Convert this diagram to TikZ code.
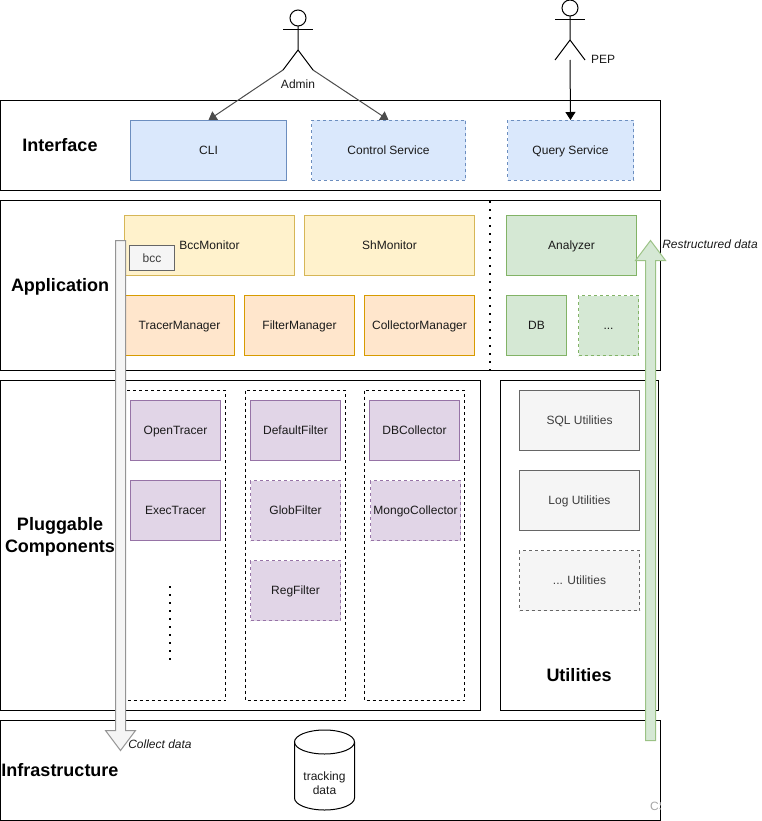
\documentclass[tikz,border=0pt]{standalone}
\usepackage{fontspec}
\setmainfont{Liberation Sans}
\usetikzlibrary{arrows.meta}
\definecolor{txt}{HTML}{1A1A1A}
\definecolor{bluef}{HTML}{DAE8FC}\definecolor{blues}{HTML}{6C8EBF}
\definecolor{yelf}{HTML}{FFF2CC}\definecolor{yels}{HTML}{D6B656}
\definecolor{orgf}{HTML}{FFE6CC}\definecolor{orgs}{HTML}{D79B00}
\definecolor{grnf}{HTML}{D5E8D4}\definecolor{grns}{HTML}{82B366}
\definecolor{purf}{HTML}{E1D5E7}\definecolor{purs}{HTML}{9673A6}
\definecolor{gryf}{HTML}{F5F5F5}\definecolor{grys}{HTML}{666666}
\tikzset{
  base/.style={draw, line width=1pt, inner sep=0pt, align=center, text=txt, text height=10pt, text depth=2pt, font=\fontsize{12}{14}\selectfont},
  layer/.style={draw=black, line width=1pt},
  title/.style={inner sep=0pt, align=center, text=black, font=\fontsize{18}{22}\bfseries\selectfont},
  small/.style={inner sep=0pt, text=txt, font=\fontsize{12}{14}\selectfont},
  note/.style={inner sep=0pt, text=txt, font=\fontsize{12}{14}\itshape\selectfont},
  bluebox/.style={base, fill=bluef, draw=blues},
  yelbox/.style={base, fill=yelf, draw=yels},
  orgbox/.style={base, fill=orgf, draw=orgs},
  grnbox/.style={base, fill=grnf, draw=grns},
  purbox/.style={base, fill=purf, draw=purs},
  grybox/.style={base, fill=gryf, draw=grys, text=grys!60!black},
  dashbox/.style={dash pattern=on 3pt off 3pt},
  column/.style={draw=black, line width=1pt, dash pattern=on 3pt off 3pt},
  actor/.style={draw=black, line width=1pt},
  conn/.style={draw=black!70, line width=1pt, -{Triangle[length=8pt,width=10pt]}},
  dotline/.style={draw=black, line width=2pt, dash pattern=on 2pt off 6pt},
}
\begin{document}
\begin{tikzpicture}[x=1pt,y=-1pt]
\useasboundingbox (0,0) rectangle (761,821);
% layers
\draw[layer] (0.5,100.5) rectangle (660.5,190.5);
\draw[layer] (0.5,200.5) rectangle (660.5,370.5);
\draw[layer] (0.5,380.5) rectangle (480.5,710.5);
\draw[layer] (500.5,380.5) rectangle (658.5,710.5);
\draw[layer] (0.5,720.5) rectangle (660.5,820.5);
% titles
\node[title] (tInterface) at (60,145) {Interface};
\node[title] (tApplication) at (60,287) {Application};
\node[title] (tPluggable) at (60,537) {Pluggable\\Components};
\node[title] (tUtilities) at (579,675) {Utilities};
\node[title] (tInfra) at (60,770) {Infrastructure};
% interface
\node[bluebox, minimum width=156pt, minimum height=60pt] (cli) at (208.5,150.5) {CLI};
\node[bluebox, dashbox, minimum width=154pt, minimum height=60pt] (control) at (388.5,150.5) {Control Service};
\node[bluebox, dashbox, minimum width=126pt, minimum height=60pt] (query) at (570.5,150.5) {Query Service};
% application
\node[yelbox, minimum width=170pt, minimum height=60pt] (bccm) at (209.5,245.5) {BccMonitor};
\node[yelbox, minimum width=170pt, minimum height=60pt] (shm) at (389.5,245.5) {ShMonitor};
\node[grnbox, minimum width=130pt, minimum height=60pt] (analyzer) at (571.5,245.5) {Analyzer};
\node[orgbox, minimum width=110pt, minimum height=60pt] (tm) at (179.5,325.5) {TracerManager};
\node[orgbox, minimum width=110pt, minimum height=60pt] (fm) at (299.5,325.5) {FilterManager};
\node[orgbox, minimum width=110pt, minimum height=60pt] (cm) at (419.5,325.5) {CollectorManager};
\node[grnbox, minimum width=60pt, minimum height=60pt] (db) at (536.5,325.5) {DB};
\node[grnbox, dashbox, minimum width=60pt, minimum height=60pt] (more) at (608.5,325.5) {...};
\node[grybox, minimum width=45pt, minimum height=25pt] (bcc) at (152,258) {bcc};
\coordinate (d1) at (490,201);
\coordinate (d2) at (490,370);
\draw[dotline] (d1) -- (d2);
% columns
\draw[column] (125.5,390.5) rectangle (225.5,700.5);
\draw[column] (245.5,390.5) rectangle (345.5,700.5);
\draw[column] (364.5,390.5) rectangle (464.5,700.5);
\node[purbox, minimum width=90pt, minimum height=60pt] (ot) at (175.5,430.5) {OpenTracer};
\node[purbox, minimum width=90pt, minimum height=60pt] (et) at (175.5,510.5) {ExecTracer};
\node[purbox, minimum width=90pt, minimum height=60pt] (df) at (295.5,430.5) {DefaultFilter};
\node[purbox, dashbox, minimum width=90pt, minimum height=60pt] (gf) at (295.5,510.5) {GlobFilter};
\node[purbox, dashbox, minimum width=90pt, minimum height=60pt] (rf) at (295.5,590.5) {RegFilter};
\node[purbox, minimum width=90pt, minimum height=60pt] (dbc) at (414.5,430.5) {DBCollector};
\node[purbox, dashbox, minimum width=90pt, minimum height=60pt] (mc) at (415.5,510.5) {MongoCollector};
\coordinate (v1) at (170,586);
\coordinate (v2) at (170,662);
\draw[dotline] (v1) -- (v2);
% utilities
\node[grybox, minimum width=120pt, minimum height=60pt] (sql) at (579.5,420.5) {SQL Utilities};
\node[grybox, minimum width=120pt, minimum height=60pt] (log) at (579.5,500.5) {Log Utilities};
\node[grybox, dashbox, minimum width=120pt, minimum height=60pt] (mu) at (579.5,580.5) {... Utilities};
% database
\draw[actor] (294.5,742) -- (294.5,798) arc[start angle=180,end angle=0,x radius=30,y radius=12] -- (354.5,742);
\draw[actor] (324.5,742) ellipse[x radius=30,y radius=12];
\node[small, align=center] (tracking) at (324.5,783) {tracking\\data};
% actors
\coordinate (adminL) at (283,70);
\coordinate (adminR) at (313,70);
\draw[actor] (298,18) circle[radius=8];
\draw[actor] (298,26) -- (298,50) -- (adminL);
\draw[actor] (298,50) -- (adminR);
\draw[actor] (283,30) -- (313,30);
\node[small] (admin) at (298,84) {Admin};
\coordinate (pepB) at (570,60);
\draw[actor] (570,8) circle[radius=8];
\draw[actor] (570,16) -- (570,40) -- (555,60);
\draw[actor] (570,40) -- (585,60);
\draw[actor] (555,20) -- (585,20);
\node[small] (pep) at (603,59) {PEP};
% connectors
\draw[conn] (adminL) -- (cli.north);
\draw[conn] (adminR) -- (control.north);
\draw[conn, draw=black] (pepB) -- (query.north);
% big arrows
\draw[line width=1pt, draw=grys!70, fill=gryf] (115.5,240.5) -- (125.5,240.5) -- (125.5,730.5) -- (135.5,730.5) -- (120.5,750.5) -- (105.5,730.5) -- (115.5,730.5) -- cycle;
\draw[line width=1pt, draw=grns!80, fill=grnf] (645.5,740.5) -- (655.5,740.5) -- (655.5,260.5) -- (665.5,260.5) -- (650.5,240.5) -- (635.5,260.5) -- (645.5,260.5) -- cycle;
\node[note] (collect) at (160,744) {Collect data};
\node[note] (restr) at (710,244) {Restructured data};
\begin{scope}
\clip (640,795) rectangle (660,815);
\node[small, text=black!35, anchor=west] (wm) at (650,806) {CS};
\end{scope}
\end{tikzpicture}
\end{document}
